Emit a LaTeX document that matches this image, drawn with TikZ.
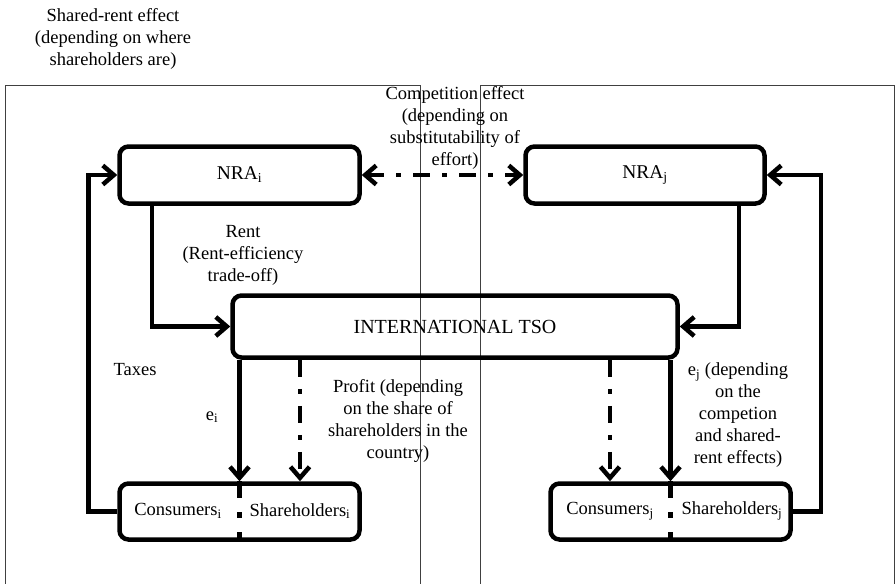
\documentclass[tikz,border=0pt]{standalone}
\usepackage{fontspec}
\setmainfont{Liberation Serif}
\usetikzlibrary{arrows.meta}
\tikzset{
    box/.style={rectangle,draw,rounded corners=9pt,line width=4.5pt,inner sep=0pt},
    lbl/.style={align=center,inner sep=0pt,font=\fontsize{18.5}{22}\selectfont},
    frame/.style={line width=0.9pt,black!75},
    directed/.style={line width=4.5pt,arrows={-Straight Barb[length=11pt,width=19pt]}},
    bothways/.style={line width=4.5pt,arrows={Straight Barb[length=11pt,width=19pt]-Straight Barb[length=11pt,width=19pt]}},
    dashdot/.style={dash pattern=on 17pt off 12pt on 5pt off 12pt},
    divider/.style={line width=4.5pt,dash pattern=on 17pt off 14pt on 6pt off 14pt},
    }
\begin{document}
\begin{tikzpicture}[x=1pt,y=-1pt]
    \useasboundingbox (0,0) rectangle (895,584);
    \clip (0,0) rectangle (895,584);
    % country frames
    \draw[frame] (5,600) -- (5,85) -- (420,85) -- (420,600);
    \draw[frame] (480,600) -- (480,85) -- (894,85) -- (894,600);

    % boxes
    \node[box,minimum width=240,minimum height=57,font=\fontsize{19.5}{22}\selectfont] (nrai) at (239.5,175) {NRA\textsubscript{i}};
    \node[box,minimum width=239,minimum height=57,font=\fontsize{19.5}{22}\selectfont] (nraj) at (645,175) {NRA\textsubscript{j}};
    \node[box,minimum width=445,minimum height=62,font=\fontsize{20}{22}\selectfont] (tso) at (455,326.5) {INTERNATIONAL TSO};
    \node[box,minimum width=240,minimum height=56] (ci) at (239.5,511.5) {};
    \node[box,minimum width=240,minimum height=56] (cj) at (670.5,511.5) {};
    \node[lbl] (coni) at (178,511) {Consumers\textsubscript{i}};
    \node[lbl] (shi) at (300,511) {Shareholders\textsubscript{i}};
    \node[lbl] (conj) at (610,511) {Consumers\textsubscript{j}};
    \node[lbl] (shj) at (732,511) {Shareholders\textsubscript{j}};
    \draw[divider] (ci.north) -- (ci.south);
    \draw[divider] (cj.north) -- (cj.south);

    % labels
    \node[lbl] (shared) at (113,39) {Shared-rent effect\\(depending on where\\shareholders are)};
    \node[lbl] (compet) at (455,128) {Competition effect\\(depending on\\substitutability of\\effort)};
    \node[lbl] (rent) at (243,255) {Rent\\(Rent-efficiency\\trade-off)};
    \node[lbl] (taxes) at (135,370) {Taxes};
    \node[lbl] (ei) at (212,417) {e\textsubscript{i}};
    \node[lbl] (profit) at (398,421) {Profit (depending\\on the share of\\shareholders in the\\country)};
    \node[lbl] (ej) at (738,415) {e\textsubscript{j} (depending\\on the\\competion\\and shared-\\rent effects)};

    % flows
    \draw[bothways,dashdot] (nrai) -- (nraj);
    \draw[directed] ([xshift=-87.5]nrai.south) |- (tso.west);
    \draw[directed] ([xshift=94]nraj.south) |- (tso.east);
    \draw[directed] (ci.west) -- ++(-29,0) |- (nrai.west);
    \draw[directed] (cj.east) -- ++(28,0) |- (nraj.east);
    \draw[directed] (tso.south -| ci.north) -- (ci.north);
    \draw[directed,dashdot] (tso.south -| shi) -- (shi |- ci.north);
    \draw[directed,dashdot] (tso.south -| conj) -- (conj |- cj.north);
    \draw[directed] (tso.south -| cj.north) -- (cj.north);
\end{tikzpicture}
\end{document}
